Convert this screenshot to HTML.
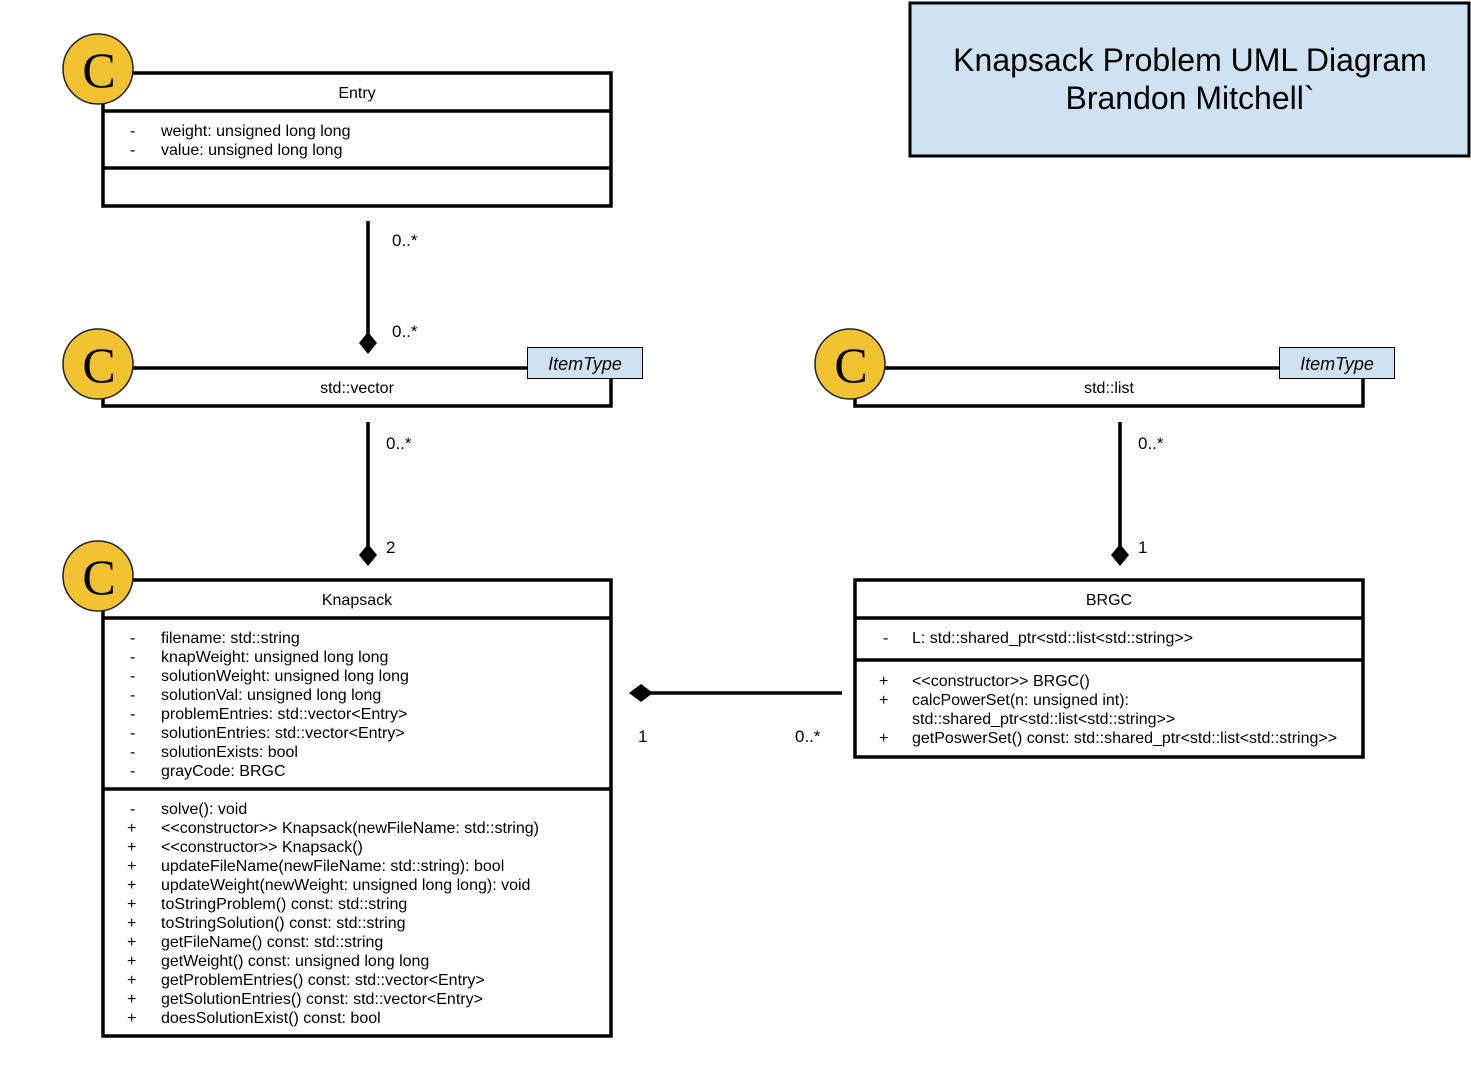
<!DOCTYPE html>
<html><head><meta charset="utf-8"><style>
html,body{margin:0;padding:0;background:#fff;}
svg{display:block;}
text{font-family:"Liberation Sans",sans-serif;font-size:16px;fill:#000;}
</style></head><body>
<svg width="1471" height="1079" xmlns="http://www.w3.org/2000/svg">
<rect x="0" y="0" width="1471" height="1079" fill="#fff"/>
<rect x="910" y="3" width="559" height="153" fill="#cfe2f3" stroke="#000" stroke-width="3"/>
<text x="1190" y="71" text-anchor="middle" style="font-size:32px">Knapsack Problem UML Diagram</text>
<text x="1190" y="109" text-anchor="middle" style="font-size:32px">Brandon Mitchell`</text>

<g fill="none" stroke="#000" stroke-width="3.5">
<rect x="103" y="73" width="508" height="133"/>
<line x1="103" y1="111" x2="611" y2="111"/>
<line x1="103" y1="168" x2="611" y2="168"/>
<rect x="103" y="368" width="508" height="38"/>
<rect x="855" y="368" width="508" height="38"/>
<rect x="103" y="580" width="508" height="456"/>
<line x1="103" y1="618" x2="611" y2="618"/>
<line x1="103" y1="789" x2="611" y2="789"/>
<rect x="855" y="580" width="508" height="177"/>
<line x1="855" y1="618" x2="1363" y2="618"/>
<line x1="855" y1="660" x2="1363" y2="660"/>
<line x1="368" y1="221" x2="368" y2="340"/>
<line x1="368" y1="422" x2="368" y2="552"/>
<line x1="1120" y1="422" x2="1120" y2="552"/>
<line x1="842" y1="693" x2="645" y2="693"/>
</g>
<g fill="#000">
<polygon points="368,332 377,343 368,354 359,343"/>
<polygon points="368,544 377,555 368,566 359,555"/>
<polygon points="1120,544 1129,555 1120,566 1111,555"/>
<polygon points="629,693 641,684 653,693 641,702"/>
</g>
<g fill="#f1c232" stroke="#222" stroke-width="1.5">
<circle cx="98" cy="69" r="35"/>
<circle cx="98" cy="364" r="35"/>
<circle cx="850" cy="364" r="35"/>
<circle cx="98" cy="576" r="35"/>
</g>
<text x="99" y="87" text-anchor="middle" style="font-family:'Liberation Serif',serif;font-size:50px">C</text>
<text x="99" y="382" text-anchor="middle" style="font-family:'Liberation Serif',serif;font-size:50px">C</text>
<text x="851" y="382" text-anchor="middle" style="font-family:'Liberation Serif',serif;font-size:50px">C</text>
<text x="99" y="594" text-anchor="middle" style="font-family:'Liberation Serif',serif;font-size:50px">C</text>
<rect x="527.5" y="347.5" width="115" height="31" fill="#cfe2f3" stroke="#000" stroke-width="1"/>
<rect x="1279.5" y="347.5" width="115" height="31" fill="#cfe2f3" stroke="#000" stroke-width="1"/>
<text x="585" y="370" text-anchor="middle" style="font-size:18px;font-style:italic">ItemType</text>
<text x="1337" y="370" text-anchor="middle" style="font-size:18px;font-style:italic">ItemType</text>

<text x="357" y="98" text-anchor="middle">Entry</text>
<text x="357" y="393" text-anchor="middle">std::vector</text>
<text x="1109" y="393" text-anchor="middle">std::list</text>
<text x="357" y="605" text-anchor="middle">Knapsack</text>
<text x="1109" y="605" text-anchor="middle">BRGC</text>

<text x="130" y="136">-</text><text x="161" y="136">weight: unsigned long long</text>
<text x="130" y="155">-</text><text x="161" y="155">value: unsigned long long</text>

<text x="130" y="643">-</text><text x="161" y="643">filename: std::string</text>
<text x="130" y="662">-</text><text x="161" y="662">knapWeight: unsigned long long</text>
<text x="130" y="681">-</text><text x="161" y="681">solutionWeight: unsigned long long</text>
<text x="130" y="700">-</text><text x="161" y="700">solutionVal: unsigned long long</text>
<text x="130" y="719">-</text><text x="161" y="719">problemEntries: std::vector&lt;Entry&gt;</text>
<text x="130" y="738">-</text><text x="161" y="738">solutionEntries: std::vector&lt;Entry&gt;</text>
<text x="130" y="757">-</text><text x="161" y="757">solutionExists: bool</text>
<text x="130" y="776">-</text><text x="161" y="776">grayCode: BRGC</text>

<text x="130" y="814">-</text><text x="161" y="814">solve(): void</text>
<text x="127" y="833">+</text><text x="161" y="833">&lt;&lt;constructor&gt;&gt; Knapsack(newFileName: std::string)</text>
<text x="127" y="852">+</text><text x="161" y="852">&lt;&lt;constructor&gt;&gt; Knapsack()</text>
<text x="127" y="871">+</text><text x="161" y="871">updateFileName(newFileName: std::string): bool</text>
<text x="127" y="890">+</text><text x="161" y="890">updateWeight(newWeight: unsigned long long): void</text>
<text x="127" y="909">+</text><text x="161" y="909">toStringProblem() const: std::string</text>
<text x="127" y="928">+</text><text x="161" y="928">toStringSolution() const: std::string</text>
<text x="127" y="947">+</text><text x="161" y="947">getFileName() const: std::string</text>
<text x="127" y="966">+</text><text x="161" y="966">getWeight() const: unsigned long long</text>
<text x="127" y="985">+</text><text x="161" y="985">getProblemEntries() const: std::vector&lt;Entry&gt;</text>
<text x="127" y="1004">+</text><text x="161" y="1004">getSolutionEntries() const: std::vector&lt;Entry&gt;</text>
<text x="127" y="1023">+</text><text x="161" y="1023">doesSolutionExist() const: bool</text>

<text x="883" y="643">-</text><text x="912" y="643">L: std::shared_ptr&lt;std::list&lt;std::string&gt;&gt;</text>
<text x="879" y="686">+</text><text x="912" y="686">&lt;&lt;constructor&gt;&gt; BRGC()</text>
<text x="879" y="705">+</text><text x="912" y="705">calcPowerSet(n: unsigned int):</text>
<text x="912" y="724">std::shared_ptr&lt;std::list&lt;std::string&gt;&gt;</text>
<text x="879" y="743">+</text><text x="912" y="743">getPoswerSet() const: std::shared_ptr&lt;std::list&lt;std::string&gt;&gt;</text>

<text x="392" y="246" style="font-size:17px">0..*</text>
<text x="392" y="337" style="font-size:17px">0..*</text>
<text x="386" y="449" style="font-size:17px">0..*</text>
<text x="386" y="553" style="font-size:17px">2</text>
<text x="1138" y="449" style="font-size:17px">0..*</text>
<text x="1138" y="553" style="font-size:17px">1</text>
<text x="638" y="742" style="font-size:17px">1</text>
<text x="795" y="742" style="font-size:17px">0..*</text>
</svg>
</body></html>
